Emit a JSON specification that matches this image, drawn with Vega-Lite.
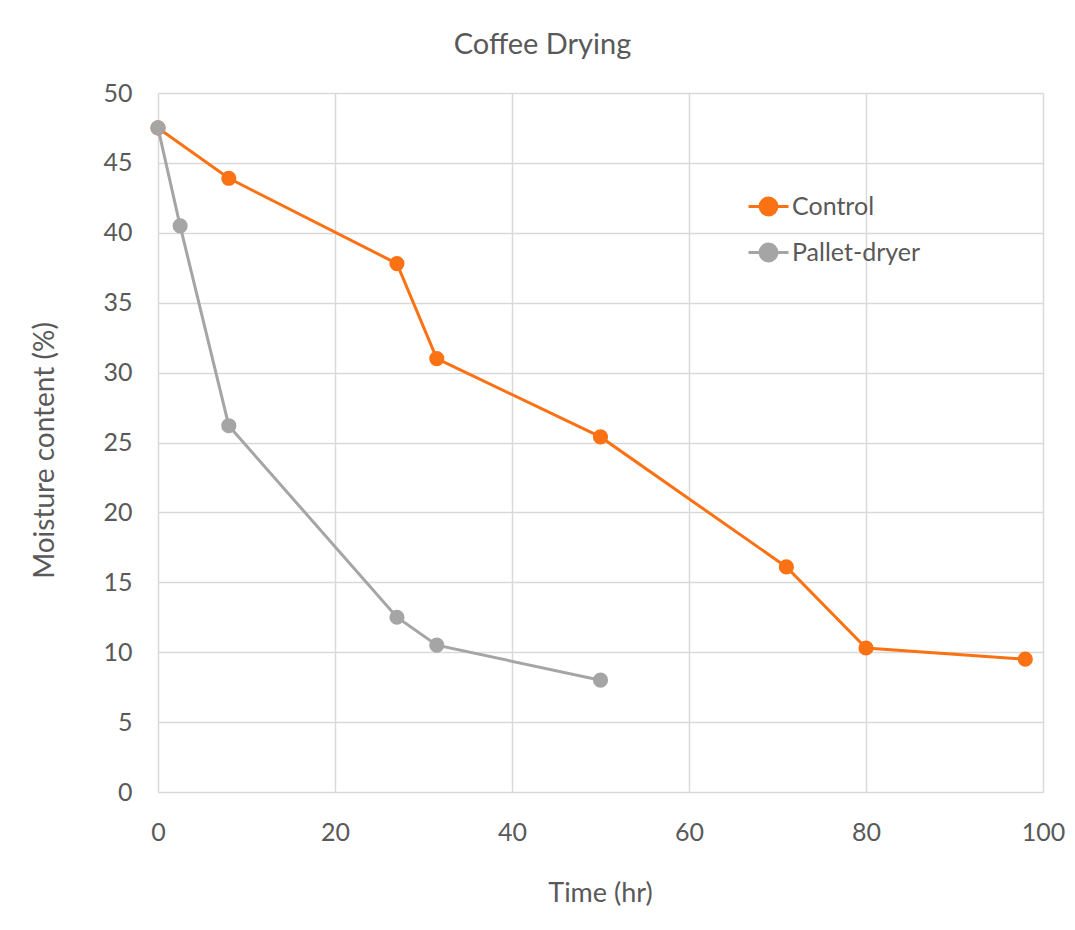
{
  "$schema": "https://vega.github.io/schema/vega-lite/v6.json",
  "width": 885,
  "height": 699,
  "autosize": {"type": "none"},
  "padding": {"left": 158, "top": 93, "right": 32, "bottom": 138},
  "background": "white",
  "title": {
    "text": "Coffee Drying",
    "frame": "group",
    "anchor": "middle",
    "dx": -58,
    "offset": -2,
    "baseline": "alphabetic",
    "fontSize": 29,
    "font": "Lato",
    "fontWeight": "normal",
    "color": "#595959"
  },
  "config": {
    "view": {"stroke": null},
    "font": "Lato",
    "axis": {
      "grid": true,
      "gridColor": "#D9D9D9",
      "gridWidth": 1.5,
      "domain": false,
      "ticks": false,
      "labelFlush": false,
      "labelOverlap": false,
      "labelFont": "Lato",
      "labelFontSize": 25,
      "labelColor": "#595959",
      "titleFont": "Lato",
      "titleFontSize": 27,
      "titleFontWeight": "normal",
      "titleColor": "#595959"
    },
    "legend": {
      "labelFont": "Lato",
      "labelFontSize": 25,
      "labelColor": "#595959"
    }
  },
  "data": {
    "values": [
      {"series": "Control", "time": 0, "moisture": 47.5},
      {"series": "Control", "time": 8, "moisture": 43.9},
      {"series": "Control", "time": 27, "moisture": 37.8},
      {"series": "Control", "time": 31.5, "moisture": 31.0},
      {"series": "Control", "time": 50, "moisture": 25.4},
      {"series": "Control", "time": 71, "moisture": 16.1},
      {"series": "Control", "time": 80, "moisture": 10.3},
      {"series": "Control", "time": 98, "moisture": 9.5},
      {"series": "Pallet-dryer", "time": 0, "moisture": 47.5},
      {"series": "Pallet-dryer", "time": 2.5, "moisture": 40.5},
      {"series": "Pallet-dryer", "time": 8, "moisture": 26.2},
      {"series": "Pallet-dryer", "time": 27, "moisture": 12.5},
      {"series": "Pallet-dryer", "time": 31.5, "moisture": 10.5},
      {"series": "Pallet-dryer", "time": 50, "moisture": 8.0}
    ]
  },
  "encoding": {
    "x": {
      "field": "time",
      "type": "quantitative",
      "scale": {"domain": [0, 100], "nice": false, "zero": true},
      "axis": {
        "values": [0, 20, 40, 60, 80, 100],
        "labelPadding": 28,
        "title": "Time (hr)",
        "titleX": 442,
        "titleY": 101,
        "titleBaseline": "middle"
      }
    },
    "y": {
      "field": "moisture",
      "type": "quantitative",
      "scale": {"domain": [0, 50], "nice": false},
      "axis": {
        "values": [0, 5, 10, 15, 20, 25, 30, 35, 40, 45, 50],
        "labelPadding": 26,
        "title": "Moisture content (%)",
        "titleX": -113,
        "titleY": 357,
        "titleFontSize": 28,
        "titleBaseline": "middle"
      }
    },
    "color": {
      "field": "series",
      "type": "nominal",
      "scale": {"domain": ["Control", "Pallet-dryer"], "range": ["#FA7214", "#A5A5A5"]},
      "legend": {
        "title": null,
        "orient": "none",
        "legendX": 589,
        "legendY": 92,
        "padding": 0,
        "symbolType": "M-1,0H1M-0.42,0a0.42,0.42 0 1,0 0.84,0a0.42,0.42 0 1,0 -0.84,0",
        "symbolSize": 1600,
        "symbolStrokeWidth": 3,
        "labelOffset": 2,
        "rowPadding": 10
      }
    }
  },
  "layer": [
    {"mark": {"type": "line", "strokeWidth": 3}},
    {"mark": {"type": "point", "filled": true, "opacity": 1, "size": 230}}
  ]
}
